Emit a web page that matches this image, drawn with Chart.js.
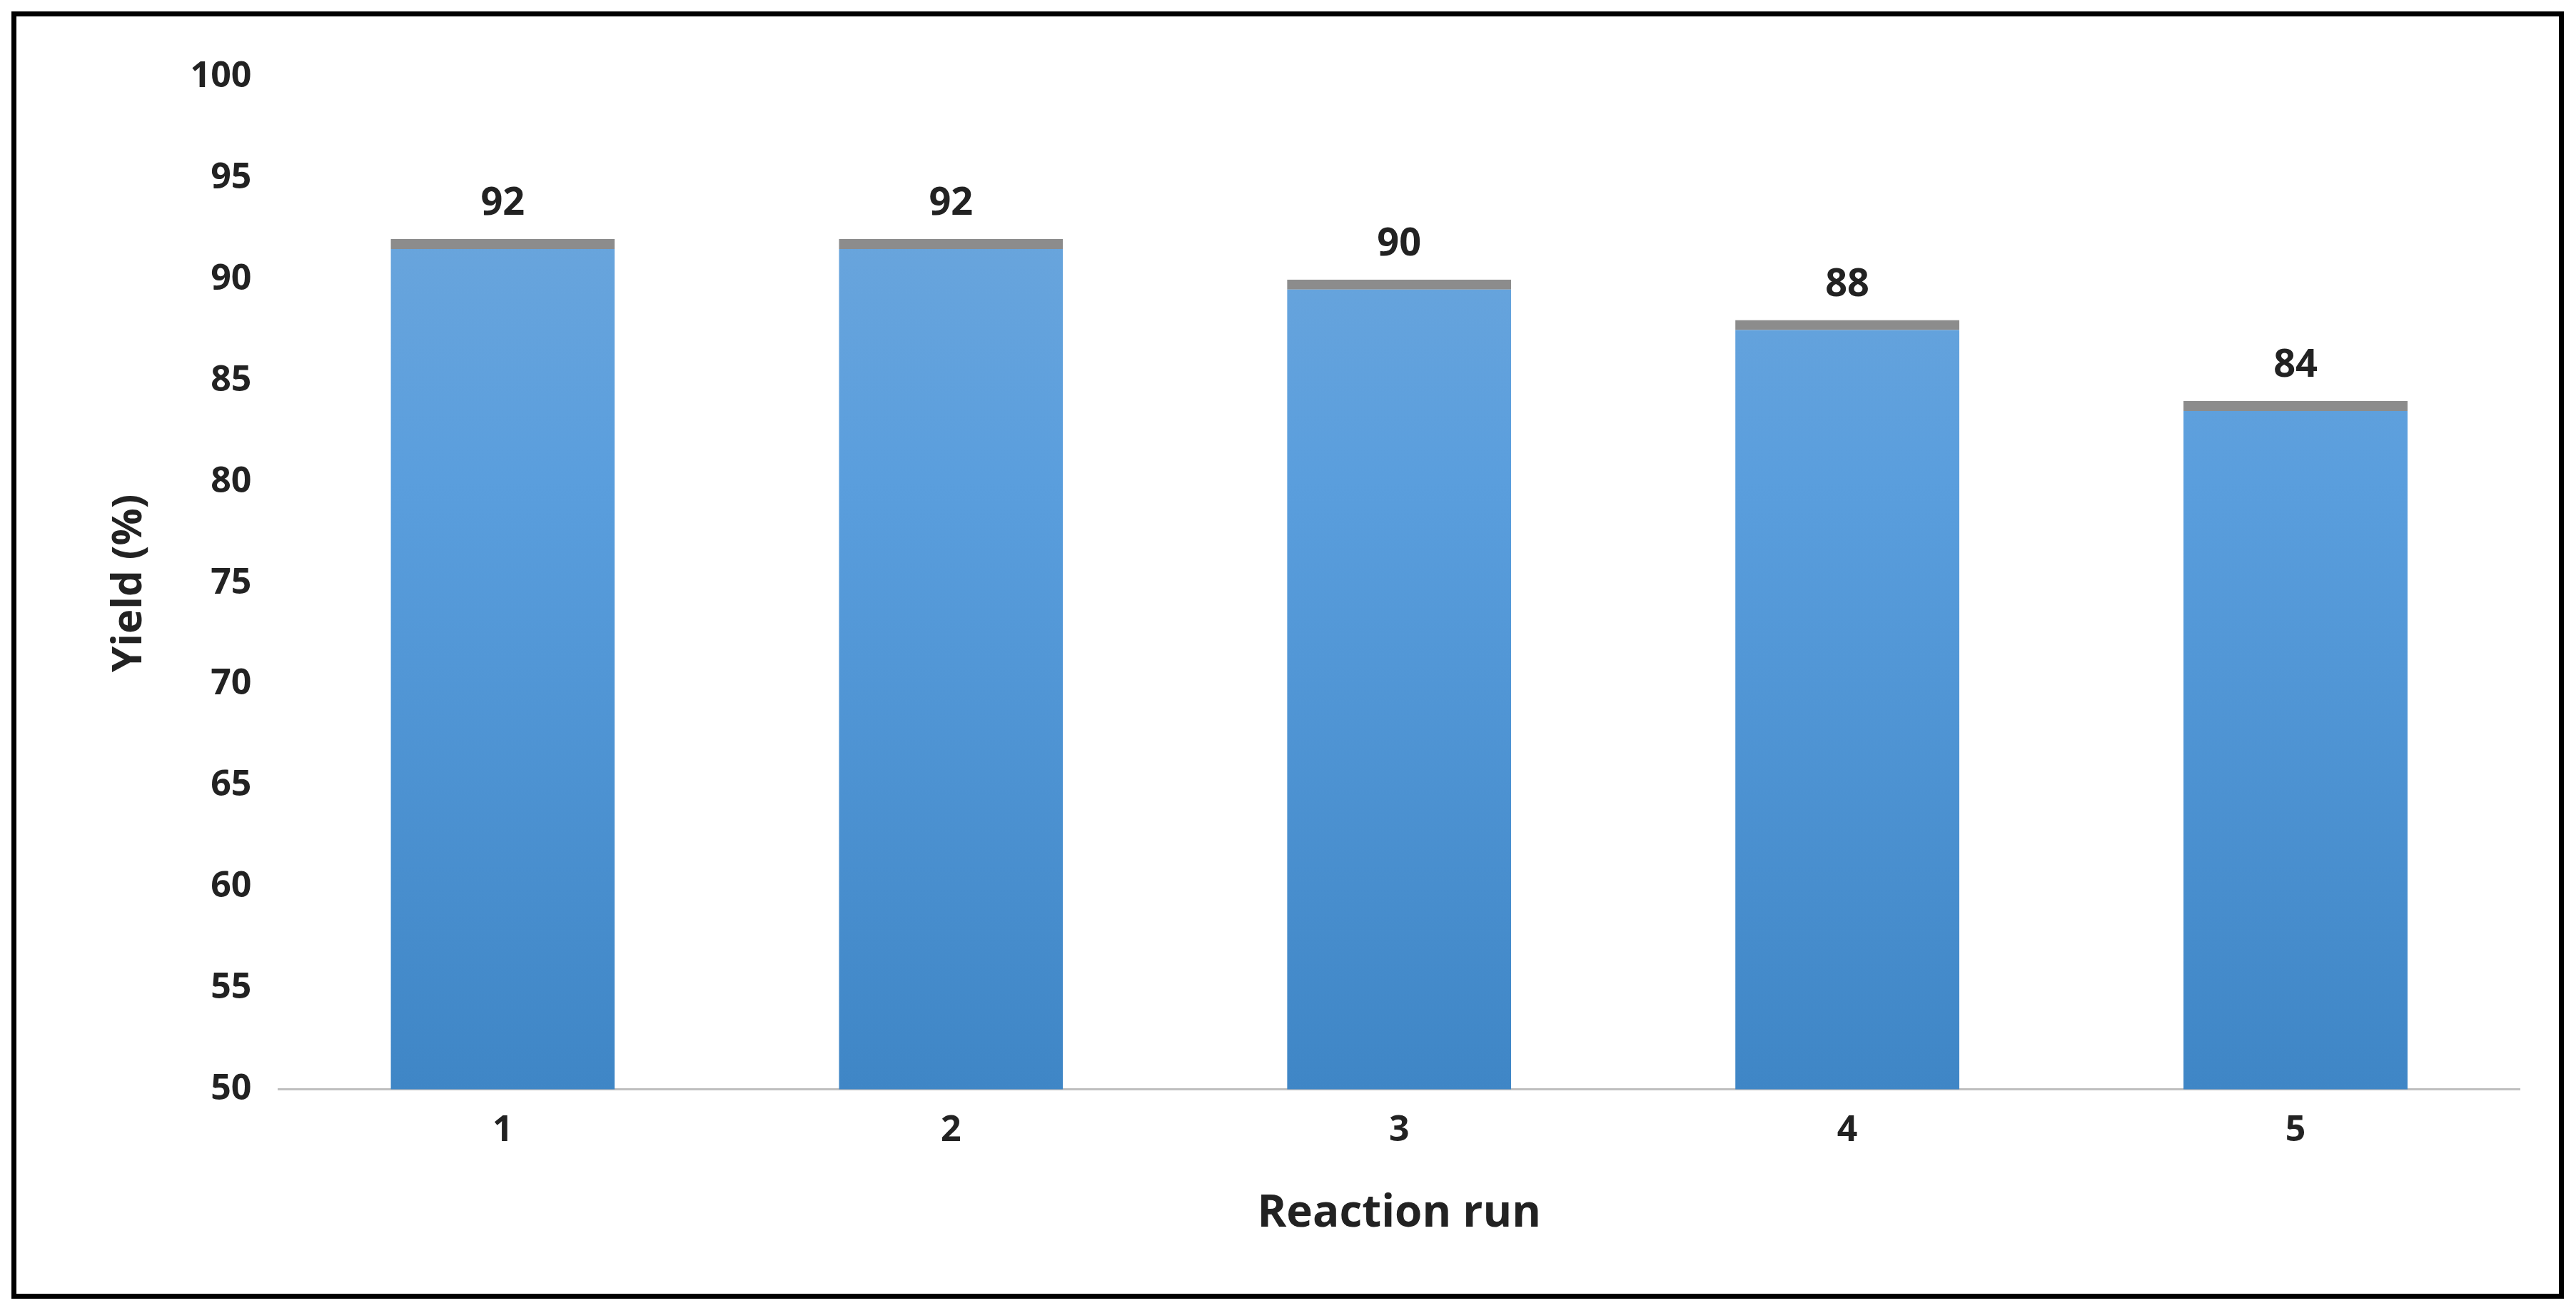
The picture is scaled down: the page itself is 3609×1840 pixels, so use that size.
<!DOCTYPE html>
<html lang="en">
<head>
<meta charset="UTF-8">
<title>Yield per reaction run</title>
<script src="https://cdn.jsdelivr.net/npm/chart.js"></script>
<style>
  html, body { margin: 0; background: #fff; }
  #frame { position: absolute; left: 16px; top: 16px; width: 3562px; height: 1790px; border: 7px solid #000; }
  canvas { display: block; }
</style>
</head>
<body>
<div id="frame"><canvas id="myChart" width="3562" height="1790"></canvas></div>
<script>
    const runs = ['1', '2', '3', '4', '5'];
    const yields = [92, 92, 90, 88, 84];

    const font = "'Open Sans', 'DejaVu Sans', sans-serif";

    // value labels above the bars
    const valueLabels = {
        id: 'valueLabels',
        afterDatasetsDraw(chart) {
            const ctx = chart.ctx;
            const meta = chart.getDatasetMeta(0);
            ctx.save();
            ctx.font = 'bold 54px ' + font;
            ctx.fillStyle = '#222';
            ctx.textAlign = 'center';
            ctx.textBaseline = 'bottom';
            meta.data.forEach((bar, i) => {
                ctx.fillText(yields[i], bar.x, bar.y - 22);
            });
            ctx.restore();
        }
    };

    const ctx = document.getElementById('myChart').getContext('2d');
    new Chart(ctx, {
        type: 'bar',
        data: {
            labels: runs,
            datasets: [{
                data: yields,
                backgroundColor(c) {
                    const area = c.chart.chartArea;
                    if (!area) return '#5a9bd5';
                    const g = c.chart.ctx.createLinearGradient(0, area.top, 0, area.bottom);
                    g.addColorStop(0, '#72a9dc');
                    g.addColorStop(0.4, '#5a9edd');
                    g.addColorStop(1, '#3f86c6');
                    return g;
                },
                borderColor: '#8c8c8c',
                borderWidth: { top: 14, left: 0, right: 0, bottom: 0 },
                borderSkipped: 'bottom',
                categoryPercentage: 1,
                barPercentage: 0.5
            }]
        },
        options: {
            responsive: false,
            animation: false,
            devicePixelRatio: 1,
            layout: { padding: { left: 120, right: 55, top: 85, bottom: 70 } },
            plugins: { legend: { display: false }, tooltip: { enabled: false } },
            scales: {
                x: {
                    grid: { display: false },
                    border: { color: '#bfbfbf', width: 3 },
                    ticks: { color: '#222', font: { family: font, size: 50, weight: 'bold' }, padding: 20 },
                    title: { display: true, text: 'Reaction run', color: '#222', font: { family: font, size: 62, weight: 'bold' }, padding: { top: 30 } }
                },
                y: {
                    min: 50, max: 100,
                    grid: { display: false },
                    border: { display: false },
                    ticks: { stepSize: 5, color: '#222', font: { family: font, size: 50, weight: 'bold' }, padding: 30 },
                    title: { display: true, text: 'Yield (%)', color: '#222', font: { family: font, size: 58, weight: 'bold' }, padding: { bottom: 20 } }
                }
            }
        },
        plugins: [valueLabels]
    });
</script>
</body>
</html>
